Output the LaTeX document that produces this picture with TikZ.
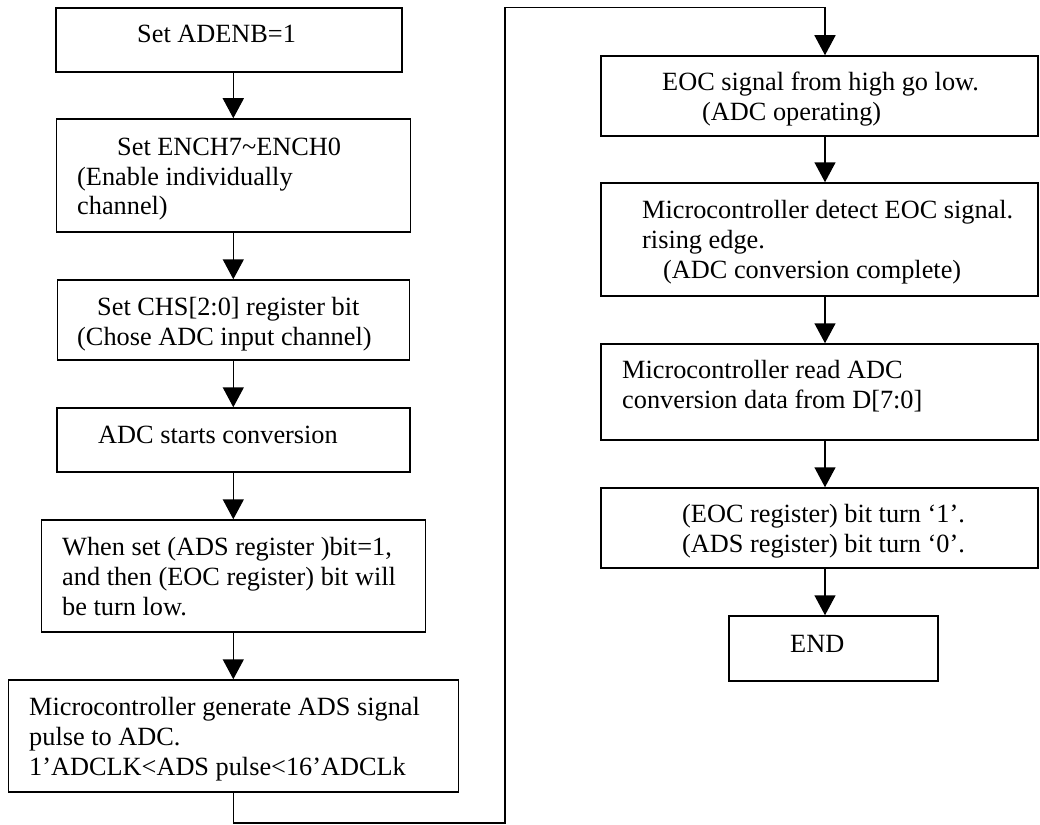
\documentclass[tikz,border=0pt]{standalone}
\usepackage{fontspec}
\setmainfont{Liberation Serif}
\usetikzlibrary{arrows.meta}
\tikzset{
  box/.style={draw, line width=1.5pt, inner sep=0pt, rectangle},
  txt/.style={anchor=base west, inner sep=0pt, font=\fontsize{26.3}{30}\selectfont},
  conn/.style={line width=1.5pt},
  arr/.style={line width=1.5pt, -{Triangle[width=21pt,length=20pt]}}
}
\begin{document}
\begin{tikzpicture}[x=1pt,y=-1pt]
\useasboundingbox (0,0) rectangle (1040,824);
% left column boxes
\node[box, minimum width=346pt, minimum height=64pt] (b1) at (229,40) {};
\node[box, minimum width=354pt, minimum height=113pt] (b2) at (233.3,175.5) {};
\node[box, minimum width=352pt, minimum height=80pt] (b3) at (233.3,320) {};
\node[box, minimum width=353pt, minimum height=64pt] (b4) at (233.5,440) {};
\node[box, minimum width=384pt, minimum height=112pt] (b5) at (233.3,576) {};
\node[box, minimum width=450pt, minimum height=112pt] (b6) at (233.3,736) {};
% right column boxes
\node[box, minimum width=437pt, minimum height=80pt] (b7) at (819.5,96) {};
\node[box, minimum width=437pt, minimum height=113pt] (b8) at (819.5,239.5) {};
\node[box, minimum width=437pt, minimum height=96pt] (b9) at (819.5,392) {};
\node[box, minimum width=437pt, minimum height=80pt] (b10) at (819.5,528) {};
\node[box, minimum width=209pt, minimum height=65pt] (b11) at (833.5,648.5) {};
% texts
\node[txt] (t1) at (137,43) {Set ADENB=1};
\node[txt] (t2a) at (117,155) {Set ENCH7\textasciitilde ENCH0};
\node[txt] (t2b) at (77,185) {(Enable individually};
\node[txt] (t2c) at (77,214) {channel)};
\node[txt] (t3a) at (97,315) {Set CHS[2:0] register bit};
\node[txt] (t3b) at (77,345) {(Chose ADC input channel)};
\node[txt] (t4) at (98,443) {ADC starts conversion};
\node[txt] (t5a) at (62,555) {When set (ADS register )bit=1,};
\node[txt] (t5b) at (62,585) {and then (EOC register) bit will};
\node[txt] (t5c) at (62,615) {be turn low.};
\node[txt] (t6a) at (29,715) {Microcontroller generate ADS signal};
\node[txt] (t6b) at (29,745) {pulse to ADC.};
\node[txt] (t6c) at (29,775) {1’ADCLK<ADS pulse<16’ADCLk};
\node[txt] (t7a) at (662,90.5) {EOC signal from high go low.};
\node[txt] (t7b) at (702,120.5) {(ADC operating)};
\node[txt] (t8a) at (642,218) {Microcontroller detect EOC signal.};
\node[txt] (t8b) at (642,248) {rising edge.};
\node[txt] (t8c) at (663,278) {(ADC conversion complete)};
\node[txt] (t9a) at (622,378) {Microcontroller read ADC};
\node[txt] (t9b) at (622,408) {conversion data from D[7:0]};
\node[txt] (t10a) at (682,522) {(EOC register) bit turn ‘1’.};
\node[txt] (t10b) at (682,552) {(ADS register) bit turn ‘0’.};
\node[txt] (t11) at (790,652) {END};
% connectors
\coordinate (lc) at (233.3,0);
\coordinate (rc) at (825,0);
\draw[arr] (b1.south -| lc) -- (b2.north -| lc);
\draw[arr] (b2.south -| lc) -- (b3.north -| lc);
\draw[arr] (b3.south -| lc) -- (b4.north -| lc);
\draw[arr] (b4.south -| lc) -- (b5.north -| lc);
\draw[arr] (b5.south -| lc) -- (b6.north -| lc);
\coordinate (p1) at (233.3,823);
\coordinate (p2) at (505,823);
\coordinate (p3) at (505,7.5);
\coordinate (p4) at (825,7.5);
\draw[arr] (b6.south -| lc) -- (p1) -- (p2) -- (p3) -- (p4) -- (b7.north -| rc);
\draw[arr] (b7.south -| rc) -- (b8.north -| rc);
\draw[arr] (b8.south -| rc) -- (b9.north -| rc);
\draw[arr] (b9.south -| rc) -- (b10.north -| rc);
\draw[arr] (b10.south -| rc) -- (b11.north -| rc);
\end{tikzpicture}
\end{document}
